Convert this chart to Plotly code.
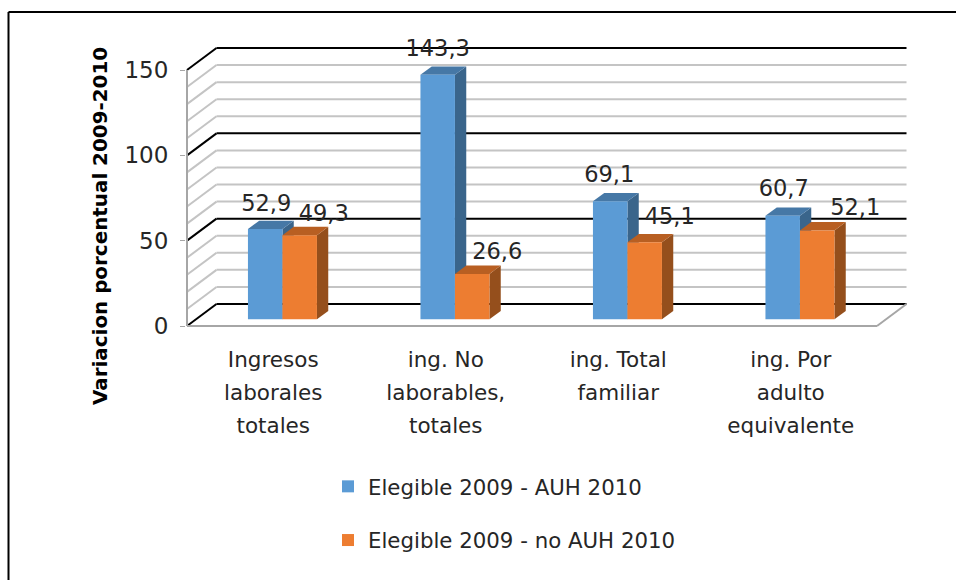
import plotly.graph_objects as go

# ---- data ----
categories = ["Ingresos<br>laborales<br>totales", "ing. No<br>laborables,<br>totales",
              "ing. Total<br>familiar", "ing. Por<br>adulto<br>equivalente"]
series_names = ["Elegible 2009 - AUH 2010", "Elegible 2009 - no AUH 2010"]
elegible_auh = [52.9, 143.3, 69.1, 60.7]
elegible_no_auh = [49.3, 26.6, 45.1, 52.1]
value_ticks = [0, 50, 100, 150]
grid_values = list(range(0, 151, 10))

# ---- styles / geometry ----
W, H = 956, 580
PX_LEFT, PX_RIGHT, PX_TOP, PX_BOTTOM = 186, 910, 40, 328   # plot area, pixels
X0_PX, FLOOR_R_PX = 187, 877     # front floor
Y0_PX, Y150_PX = 326, 70         # value 0 and 150 on the front plane
CAT_PX = (FLOOR_R_PX - X0_PX) / 4
UNIT_PX = (Y0_PX - Y150_PX) / 150
WALL_DX, WALL_DY = 29.5, 22      # depth of the whole box
BAR_DX, BAR_DY = 9.2, 6.7        # where the bar fronts stand
SIDE_DX, SIDE_DY = 11.3, 8.3     # depth of the bars
BAR_W = 0.2
BLUE, BLUE_SIDE, BLUE_TOP = "#5B9BD5", "#3A658B", "#4678A6"
ORANGE, ORANGE_SIDE, ORANGE_TOP = "#ED7D31", "#954F1C", "#B85F22"
GRID, BLACK, TEXT = "#C4C4C4", "#000000", "#262626"
FONT = "DejaVu Sans"
FS_LEGEND, FS_CAT, FS_LABEL, FS_TICK, FS_TITLE = 21.3, 21.5, 22.5, 23, 19.9
# data-label offsets from the bar's front-top centre, pixels
label_dx = [[1, 0, -1, 1], [24, 25, 25, 38]]
label_dy = [[24, 24, 24.5, 25], [20, 21, 24, 21]]


def dx(px):
    return px / CAT_PX


def dy(px):
    return px / UNIT_PX


x_range = [-0.5 + dx(PX_LEFT - X0_PX), -0.5 + dx(PX_RIGHT - X0_PX)]
y_range = [dy(Y0_PX - PX_BOTTOM), dy(Y0_PX - PX_TOP)]
x_left, x_floor_r = -0.5, 3.5


def segment(x1, y1, x2, y2, color, width):
    return dict(type="line", xref="x", yref="y", x0=x1, y0=y1, x1=x2, y1=y2,
                layer="below", line=dict(color=color, width=width))


def poly(points, color):
    path = "M" + " L".join(f"{a},{b}" for a, b in points) + " Z"
    return dict(type="path", xref="x", yref="y", path=path, layer="below",
                fillcolor=color, line=dict(width=0))


shapes = []
wall_x = x_left + dx(WALL_DX)
wall_r = x_floor_r + dx(WALL_DX)
for v in grid_values:
    major = v in value_ticks
    c, w = (BLACK, 2) if major else (GRID, 2)
    shapes.append(segment(x_left, v, wall_x, v + dy(WALL_DY), c, w))
    shapes.append(segment(wall_x, v + dy(WALL_DY), wall_r, v + dy(WALL_DY), c, w))
shapes.append(segment(x_left, 0, x_left, 150, "#A6A6A6", 2))
shapes.append(segment(x_left, 0, x_floor_r, 0, "#A6A6A6", 2))
shapes.append(segment(x_floor_r, 0, wall_r, dy(WALL_DY), "#A6A6A6", 2))

base = dy(BAR_DY)
bar_x = [[i + dx(BAR_DX) + off for i in range(4)] for off in (-BAR_W / 2, BAR_W / 2)]
all_vals = [elegible_auh, elegible_no_auh]
colors = [(BLUE_SIDE, BLUE_TOP), (ORANGE_SIDE, ORANGE_TOP)]
for s in range(2):
    for cx, v in zip(bar_x[s], all_vals[s]):
        l, r = cx - BAR_W / 2, cx + BAR_W / 2
        top = base + v
        sx, sy = dx(SIDE_DX), dy(SIDE_DY)
        shapes.append(poly([(r, base), (r + sx, base + sy), (r + sx, top + sy), (r, top)], colors[s][0]))
        shapes.append(poly([(l, top), (r, top), (r + sx, top + sy), (l + sx, top + sy)], colors[s][1]))

# border of the picture
shapes.append(dict(type="line", xref="paper", yref="paper", x0=8.5 / W, x1=1, y0=1 - 12 / H, y1=1 - 12 / H,
                   line=dict(color="#000000", width=2)))
shapes.append(dict(type="line", xref="paper", yref="paper", x0=8.5 / W, x1=8.5 / W, y0=0, y1=1 - 12 / H,
                   line=dict(color="#000000", width=2)))

fig = go.Figure()
for s, col in enumerate((BLUE, ORANGE)):
    fig.add_trace(go.Bar(x=bar_x[s], y=all_vals[s], base=base, width=BAR_W, name=series_names[s],
                         legendgroup=series_names[s], marker=dict(color=col, line=dict(width=0)),
                         customdata=all_vals[s], hovertemplate="%{customdata}<extra>" + series_names[s] + "</extra>"))
for s in range(2):
    xs = [cx + dx(a) for cx, a in zip(bar_x[s], label_dx[s])]
    ys = [base + v + dy(b) for v, b in zip(all_vals[s], label_dy[s])]
    fig.add_trace(go.Scatter(x=xs, y=ys, mode="text", text=[f"{v:.1f}".replace(".", ",") for v in all_vals[s]],
                             textposition="middle center", textfont=dict(family=FONT, size=FS_LABEL, color=TEXT),
                             showlegend=False, hoverinfo="skip", cliponaxis=False))

cat_text = ["<br>".join(f'<span style="font-size:{FS_CAT}px">{p}</span>' for p in c.split("<br>")) for c in categories]

fig.update_layout(
    width=W, height=H, margin=dict(l=0, r=0, t=0, b=0, autoexpand=False), paper_bgcolor="white", plot_bgcolor="white",
    shapes=shapes, showlegend=True, barmode="overlay",
    font=dict(family=FONT, size=FS_LEGEND, color=TEXT),
    xaxis=dict(domain=[PX_LEFT / W, PX_RIGHT / W], range=x_range, tickmode="array", tickvals=list(range(4)),
               ticktext=cat_text, showgrid=False, zeroline=False, showline=False, ticks="",
               tickfont=dict(family=FONT, size=25.4, color=TEXT), ticklabelstandoff=13, tickangle=0),
    yaxis=dict(domain=[1 - PX_BOTTOM / H, 1 - PX_TOP / H], range=y_range, tickmode="array", tickvals=value_ticks,
               showgrid=False, zeroline=False, showline=False, ticks="outside", ticklen=5, tickcolor="#A6A6A6",
               tickwidth=1, tickfont=dict(family=FONT, size=FS_TICK, color=TEXT), ticklabelstandoff=7),
    legend=dict(x=328 / W, y=1 - 466 / H, xanchor="left", yanchor="top", orientation="v",
                font=dict(family=FONT, size=FS_LEGEND, color=TEXT), tracegroupgap=23, bgcolor="rgba(0,0,0,0)"),
    annotations=[dict(text="<b>Variacion porcentual 2009-2010</b>", textangle=-90, xref="paper", yref="paper",
                      x=100 / W, y=1 - 226 / H, showarrow=False, xanchor="center", yanchor="middle",
                      font=dict(family=FONT, size=FS_TITLE, color="#000000"))],
)
fig.write_html("out.html", config=dict(displayModeBar=False), post_script="document.body.style.margin='0';")
